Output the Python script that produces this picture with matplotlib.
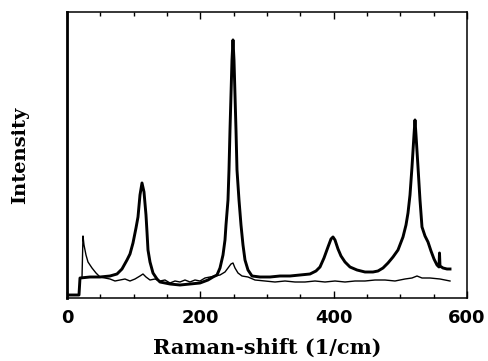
import numpy as np
import matplotlib
matplotlib.use("Agg")
import matplotlib.pyplot as plt
from matplotlib.ticker import MultipleLocator

# ── Data: Raman shift (1/cm) vs intensity (arb.) ──
thick_shift = [0, 18, 19.5, 34.5, 49.5, 64.5, 75, 82.5, 90, 94.5,
               99, 103.5, 106.5, 109.5, 112.5, 115.5, 118.5, 120, 121.5, 124.5,
               129, 135, 139.5, 154.5, 169.5, 184.5, 199.5, 211.5, 219, 225,
               229.5, 234, 237, 238.5, 241.5, 243, 244.5, 246, 247.5, 249,
               250.5, 252, 253.5, 255, 258, 261, 264, 267, 271.5, 277.5,
               289.5, 304.5, 319.5, 334.5, 349.5, 364.5, 373.5, 379.5, 385.5, 391.5,
               396, 399, 402, 406.5, 411, 417, 424.5, 435, 447, 459,
               466.5, 474, 481.5, 489, 496.5, 504, 508.5, 511.5, 514.5, 517.5,
               520.5, 522, 523.5, 526.5, 529.5, 532.5, 537, 541.5, 546, 550.5,
               555, 558, 558.75, 559.5, 564, 570, 574.5]
thick_int = [3, 3, 20, 21, 21, 22, 24, 29, 38, 44,
             55, 70, 81, 103, 115, 106, 83, 66, 48, 36,
             25, 19, 16, 14, 13, 14, 15, 18, 21, 23,
             30, 43, 58, 73, 98, 128, 168, 203, 238, 258,
             238, 203, 168, 128, 98, 73, 53, 38, 28, 22,
             21, 21, 22, 22, 23, 24, 27, 31, 40, 51,
             59, 61, 58, 49, 42, 36, 31, 28, 26, 26,
             27, 30, 35, 41, 48, 61, 73, 85, 103, 131,
             163, 178, 163, 131, 98, 71, 62, 56, 47, 39,
             33, 31, 45, 32, 30, 29, 29]

thin_shift = [19.5, 22.5, 24, 25.5, 28.5, 31.5, 37.5, 43.5, 49.5, 57,
              64.5, 72, 79.5, 87, 94.5, 102, 109.5, 114, 118.5, 124.5,
              132, 139.5, 147, 154.5, 162, 169.5, 177, 184.5, 192, 199.5,
              207, 214.5, 222, 229.5, 237, 241.5, 246, 249, 252, 256.5,
              262.5, 271.5, 282, 297, 312, 327, 342, 357, 372, 387,
              402, 417, 432, 447, 462, 477, 492, 507, 517.5, 525,
              532.5, 544.5, 559.5, 574.5]
thin_int = [20, 20, 62, 53, 43, 36, 30, 25, 21, 20,
            19, 17, 18, 19, 17, 19, 22, 24, 21, 18,
            19, 17, 18, 15, 17, 16, 18, 16, 18, 17,
            20, 21, 22, 23, 26, 30, 34, 35, 30, 25,
            22, 21, 18, 17, 16, 17, 16, 16, 17, 16,
            17, 16, 17, 17, 18, 18, 17, 19, 20, 22,
            20, 20, 19, 17]

xticks_major = [0, 200, 400, 600]

fig = plt.figure(figsize=(4.89, 3.61), dpi=100)
ax = fig.add_axes([0.137, 0.1745, 0.818, 0.7925])

ax.plot(thin_shift, thin_int, color="black", linewidth=1.0)
ax.plot(thick_shift, thick_int, color="black", linewidth=2.1)

ax.set_xlim(0, 600)
ax.set_ylim(0, 286)
ax.set_xticks(xticks_major)
ax.set_xticklabels([str(v) for v in xticks_major], fontweight="bold", fontsize=13,
                   family="DejaVu Sans")
ax.xaxis.set_minor_locator(MultipleLocator(50))
ax.tick_params(axis="x", which="both", direction="in", top=True, bottom=True, pad=8)
ax.tick_params(axis="x", which="major", length=5, width=1.0)
ax.tick_params(axis="x", which="minor", length=3, width=1.0)
ax.set_yticks([])

for side in ["top", "right", "bottom"]:
    ax.spines[side].set_linewidth(1.1)
ax.spines["left"].set_linewidth(2.0)

ax.set_xlabel("Raman-shift (1/cm)", fontsize=15, fontweight="bold",
              family="DejaVu Serif", labelpad=8)
ax.set_ylabel("Intensity", fontsize=14, fontweight="bold",
              family="DejaVu Serif", labelpad=27)

fig.savefig("out.png", dpi=100)
